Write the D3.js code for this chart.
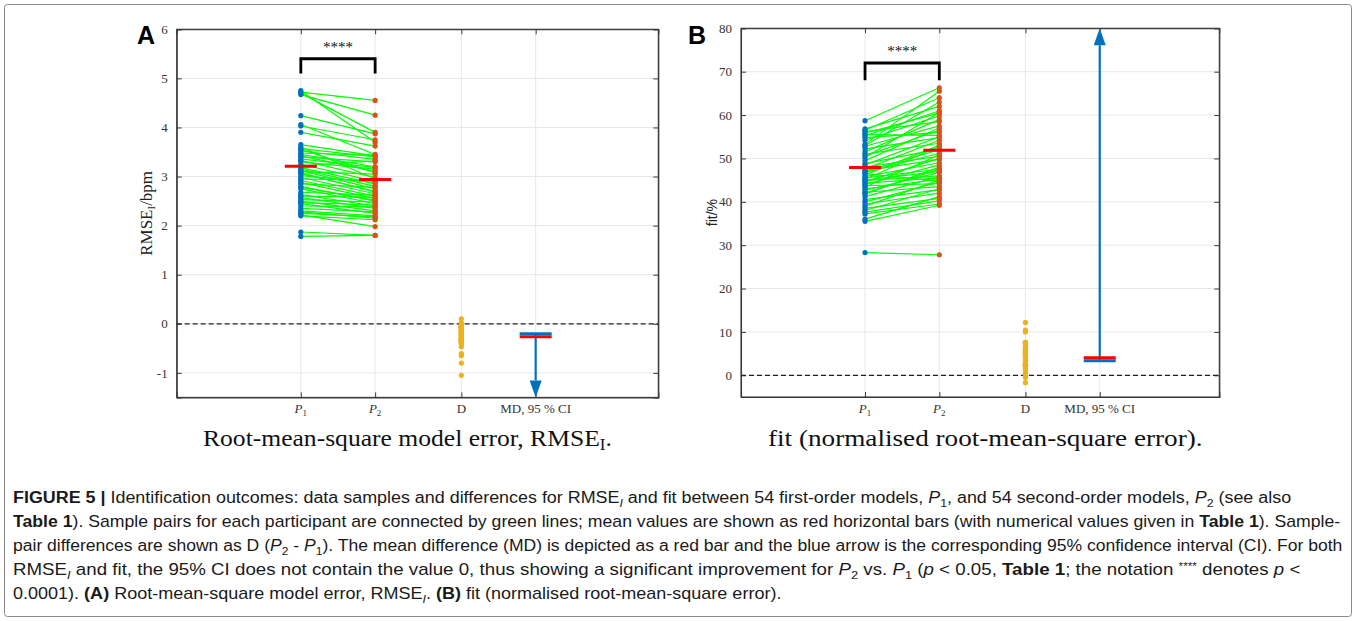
<!DOCTYPE html>
<html><head><meta charset="utf-8">
<script src="https://cdn.jsdelivr.net/npm/d3@7"></script>
<style>html,body{margin:0;padding:0;background:#fff;}svg{display:block;}</style>
</head><body>
<svg id="fig" width="1356" height="621"></svg>
<script>
// ---------- DATA ----------
const categories = ["P1", "P2", "D", "MD, 95 % CI"];
const categoryPos = [1, 2, 3.16, 4.16];

// Panel A: RMSE_I (bpm), paired samples (index = participant)
const rmseP1 = [4.75,4.72,4.70,4.67,4.24,4.06,4.03,3.90,3.65,3.60,3.57,3.52,3.48,3.45,3.40,3.36,3.30,3.25,3.22,3.18,3.15,3.12,3.10,3.06,3.02,2.98,2.95,2.92,2.88,2.85,2.80,2.75,2.68,2.63,2.60,2.57,2.53,2.50,2.47,2.45,2.40,2.35,2.30,2.28,2.25,2.22,2.20,1.87,1.78,3.42,3.33,3.08,2.78,3.55];
const rmseP2 = [3.70,4.55,3.90,4.25,3.87,3.45,3.75,3.62,3.42,2.95,3.40,3.35,3.43,3.20,3.30,3.18,3.15,2.90,3.32,2.85,2.80,2.75,3.05,2.70,2.88,2.65,2.92,2.60,2.55,2.78,2.50,2.45,2.62,2.40,2.58,2.35,2.48,2.30,2.42,2.25,2.38,2.28,2.20,2.15,2.18,1.98,2.12,1.80,1.80,3.10,2.98,2.68,2.52,3.08];
const rmseMeans = [3.21, 2.94];
const rmseMD = -0.265;
const rmseCIbound = -0.205;
const rmseYTicks = [-1, 0, 1, 2, 3, 4, 5, 6];
const rmseYDomain = [-1.5, 6];

// Panel B: fit (%), paired samples
const fitP1 = [58.7,56.8,56.2,55.8,55.5,55.2,54.8,54.2,53.3,52.8,52.2,51.5,51.0,50.6,50.2,48.8,48.5,48.0,47.6,47.2,46.8,46.5,46.2,45.8,45.5,45.2,44.9,44.6,44.3,44.0,43.7,43.4,43.0,42.6,42.2,41.8,41.2,40.5,40.0,39.5,39.0,38.5,38.0,37.6,37.2,36.0,35.5,28.3,56.5,53.0,49.5,47.0,45.0,42.0];
const fitP2 = [66.3,62.0,58.5,60.5,55.3,61.0,56.0,59.8,65.5,57.5,54.8,59.0,53.5,56.5,60.6,52.2,55.0,50.5,54.2,49.8,51.2,44.8,53.0,49.0,47.5,52.8,46.0,50.0,45.5,48.5,44.2,50.8,45.2,46.8,43.5,48.0,45.8,42.8,44.5,42.0,45.0,40.8,43.0,40.2,39.5,41.2,39.2,27.8,64.0,63.0,57.0,52.0,47.0,47.5];
const fitMeans = [47.9, 51.9];
const fitMD = 4.05;
const fitCIbound = 3.36;
const fitYTicks = [0, 10, 20, 30, 40, 50, 60, 70, 80];
const fitYDomain = [-5, 80];

// ---------- DRAW ----------
const svg = d3.select("#fig");
const serif = "'Liberation Serif','DejaVu Serif',serif";
const sans = "'Liberation Sans','Arial',sans-serif";
const narrow = "'Liberation Sans Narrow','Arial Narrow','Liberation Sans',sans-serif";

// outer frame
svg.append("rect").attr("x",4.5).attr("y",4.5).attr("width",1347).attr("height",612)
  .attr("fill","none").attr("stroke","#8a8a8a").attr("stroke-width",1).attr("rx",3);

function panel(cfg){
  const g = svg.append("g");
  const x = d3.scaleLinear().domain(cfg.xDomain).range([cfg.left, cfg.right]);
  const y = d3.scaleLinear().domain(cfg.yDomain).range([cfg.bottom, cfg.top]);
  const axisCol = "#3a3a3a";

  // grid
  g.selectAll(".gy").data(cfg.yTicks).join("line")
    .attr("x1",cfg.left).attr("x2",cfg.right).attr("y1",d=>y(d)).attr("y2",d=>y(d))
    .attr("stroke","#e8e8e8").attr("stroke-width",1);
  g.selectAll(".gx").data(categoryPos).join("line")
    .attr("x1",d=>x(d)).attr("x2",d=>x(d)).attr("y1",cfg.top).attr("y2",cfg.bottom)
    .attr("stroke","#e8e8e8").attr("stroke-width",1);

  // axes via d3 axis generators (inward ticks)
  const yl = d3.axisLeft(y).tickValues(cfg.yTicks).tickSize(-5).tickPadding(9).tickFormat(d=>String(d));
  const ya = g.append("g").attr("transform",`translate(${cfg.left},0)`).call(yl);
  const yr = d3.axisRight(y).tickValues(cfg.yTicks).tickSize(-5).tickFormat("");
  g.append("g").attr("transform",`translate(${cfg.right},0)`).call(yr);
  const xb = d3.axisBottom(x).tickValues(categoryPos).tickSize(-5).tickFormat("");
  g.append("g").attr("transform",`translate(0,${cfg.bottom})`).call(xb);
  const xt = d3.axisTop(x).tickValues(categoryPos).tickSize(-5).tickFormat("");
  g.append("g").attr("transform",`translate(0,${cfg.top})`).call(xt);
  g.selectAll(".domain").attr("stroke",axisCol).attr("stroke-width",1.1);
  g.selectAll(".tick line").attr("stroke",axisCol);
  ya.selectAll("text").attr("font-family",serif).attr("font-size",13).attr("fill","#333");
  // box
  g.append("rect").attr("x",cfg.left).attr("y",cfg.top).attr("width",cfg.right-cfg.left).attr("height",cfg.bottom-cfg.top)
    .attr("fill","none").attr("stroke",axisCol).attr("stroke-width",1.1);

  // x tick labels
  const ly = cfg.bottom + 16;
  const lab = (xx)=>g.append("text").attr("x",xx).attr("y",ly).attr("text-anchor","middle")
    .attr("font-family",serif).attr("font-size",13).attr("fill","#333");
  [0,1].forEach(i=>{
    const t = lab(x(categoryPos[i]));
    t.append("tspan").attr("font-style","italic").text("P");
    t.append("tspan").attr("font-size",9).attr("dy",3).text(String(i+1));
  });
  lab(x(categoryPos[2])).text(categories[2]);
  lab(x(categoryPos[3])).text(categories[3]);

  // zero line
  g.append("line").attr("x1",cfg.left).attr("x2",cfg.right).attr("y1",y(0)).attr("y2",y(0))
    .attr("stroke","#222").attr("stroke-width",1.2).attr("stroke-dasharray","5,3");

  const p1 = cfg.p1, p2 = cfg.p2;
  const pairs = p1.map((v,i)=>({a:v,b:p2[i],d:p2[i]-v}));
  // green connecting lines
  g.selectAll(".pair").data(pairs).join("line")
    .attr("x1",x(categoryPos[0])).attr("x2",x(categoryPos[1]))
    .attr("y1",d=>y(d.a)).attr("y2",d=>y(d.b))
    .attr("stroke","#00ff00").attr("stroke-width",1.2);
  // dots
  g.selectAll(".d1").data(pairs).join("circle").attr("cx",x(categoryPos[0])).attr("cy",d=>y(d.a)).attr("r",2.6).attr("fill","#0072BD");
  g.selectAll(".d2").data(pairs).join("circle").attr("cx",x(categoryPos[1])).attr("cy",d=>y(d.b)).attr("r",2.6).attr("fill","#D95319");
  g.selectAll(".dd").data(pairs).join("circle").attr("cx",x(categoryPos[2])).attr("cy",d=>y(d.d)).attr("r",2.6).attr("fill","#EDB120");

  // means
  cfg.means.forEach((m,i)=>{
    g.append("line").attr("x1",x(categoryPos[i])-16).attr("x2",x(categoryPos[i])+16)
      .attr("y1",y(m)).attr("y2",y(m)).attr("stroke","#ff0000").attr("stroke-width",3);
  });

  // MD + CI arrow (one-sided CI: arrow runs from the bound away from zero, past the mean)
  const mx = x(categoryPos[3]);
  const yb = y(cfg.ci), ym = y(cfg.md);
  const up = cfg.ci < cfg.md;
  const tipY = up ? cfg.top : cfg.bottom;
  const headLen = 17, headHalf = 6;
  const baseY = up ? tipY + headLen : tipY - headLen;
  g.append("line").attr("x1",mx).attr("x2",mx).attr("y1",yb).attr("y2",baseY)
    .attr("stroke","#0072BD").attr("stroke-width",2.2);
  g.append("path").attr("d",`M${mx},${tipY}L${mx-headHalf},${baseY}L${mx+headHalf},${baseY}Z`).attr("fill","#0072BD");
  g.append("line").attr("x1",mx-16).attr("x2",mx+16).attr("y1",yb).attr("y2",yb).attr("stroke","#0072BD").attr("stroke-width",3);
  g.append("line").attr("x1",mx-16).attr("x2",mx+16).attr("y1",ym).attr("y2",ym).attr("stroke","#ff0000").attr("stroke-width",3);

  // significance bracket
  const bx1 = x(categoryPos[0]), bx2 = x(categoryPos[1]);
  g.append("path").attr("d",`M${bx1},${y(cfg.brLow)}V${y(cfg.brTop)}H${bx2}V${y(cfg.brLow)}`)
    .attr("fill","none").attr("stroke","#000").attr("stroke-width",2.8);
  g.append("text").attr("x",(bx1+bx2)/2).attr("y",y(cfg.starY)+6).attr("text-anchor","middle")
    .attr("font-family",serif).attr("font-size",15).attr("fill","#111").text("****");

  // panel letter
  g.append("text").attr("x",cfg.letterX).attr("y",44).attr("font-family",sans).attr("font-weight","bold")
    .attr("font-size",25).attr("fill","#000").text(cfg.letter);

  // y label
  const yt = g.append("text").attr("transform",`translate(${cfg.ylabX},${(cfg.top+cfg.bottom)/2}) rotate(-90)`)
    .attr("text-anchor","middle").attr("fill","#222");
  cfg.ylab(yt);

  // title
  const tt = g.append("text").attr("x",0).attr("y",0).attr("font-family",serif).attr("font-size",24).attr("fill","#111");
  cfg.title(tt);
  const w = tt.node().getComputedTextLength();
  const s = (cfg.titleR - cfg.titleL)/w;
  tt.attr("transform",`translate(${cfg.titleL},446) scale(${s},1)`);
}

panel({
  left:176.7, right:658.3, top:29.3, bottom:397.4,
  xDomain:[-0.67, 5.81], yDomain:rmseYDomain, yTicks:rmseYTicks,
  p1:rmseP1, p2:rmseP2, means:rmseMeans, md:rmseMD, ci:rmseCIbound,
  brTop:5.4, brLow:5.1, starY:5.66, letter:"A", letterX:137, ylabX:152,
  ylab:(t)=>{ t.attr("font-family",serif).attr("font-size",17);
    t.append("tspan").text("RMSE"); t.append("tspan").attr("font-size",11).attr("dy",3).text("I");
    t.append("tspan").attr("dy",-3).text("/bpm"); },
  title:(t)=>{ t.append("tspan").text("Root-mean-square model error, RMSE");
    t.append("tspan").attr("font-size",16).attr("dy",4).text("I"); t.append("tspan").attr("dy",-4).text("."); },
  titleL:203, titleR:612
});

panel({
  left:741, right:1219.3, top:28.3, bottom:397,
  xDomain:[-0.67, 5.77], yDomain:fitYDomain, yTicks:fitYTicks,
  p1:fitP1, p2:fitP2, means:fitMeans, md:fitMD, ci:fitCIbound,
  brTop:72, brLow:68, starY:75, letter:"B", letterX:688, ylabX:717,
  ylab:(t)=>{ t.attr("font-family",sans).attr("font-size",14).text("fit/%"); },
  title:(t)=>{ t.text("fit (normalised root-mean-square error)."); },
  titleL:768, titleR:1203
});

// ---------- CAPTION ----------
const capLines = [
  [["b","FIGURE 5 | "],["n","Identification outcomes: data samples and differences for RMSE"],["si","I"],["n"," and fit between 54 first-order models, "],["i","P"],["s","1"],["n",", and 54 second-order models, "],["i","P"],["s","2"],["n"," (see also"]],
  [["b","Table 1"],["n","). Sample pairs for each participant are connected by green lines; mean values are shown as red horizontal bars (with numerical values given in "],["b","Table 1"],["n","). Sample-"]],
  [["n","pair differences are shown as D ("],["i","P"],["s","2"],["n"," - "],["i","P"],["s","1"],["n","). The mean difference (MD) is depicted as a red bar and the blue arrow is the corresponding 95% confidence interval (CI). For both"]],
  [["n","RMSE"],["si","I"],["n"," and fit, the 95% CI does not contain the value 0, thus showing a significant improvement for "],["i","P"],["s","2"],["n"," vs. "],["i","P"],["s","1"],["n"," ("],["i","p"],["n"," < 0.05, "],["b","Table 1"],["n","; the notation "],["sup","****"],["n"," denotes "],["i","p"],["n"," <"]],
  [["n","0.0001). "],["b","(A)"],["n"," Root-mean-square model error, RMSE"],["si","I"],["n",". "],["b","(B)"],["n"," fit (normalised root-mean-square error)."]]
];
const capY = [503, 527, 551, 575, 599];
const capEnd = [1292, 1341, 1343, 1301, 782];
const capX = 13;
capLines.forEach((parts, li)=>{
  const t = svg.append("text").attr("x",0).attr("y",0).attr("font-family",narrow).attr("font-size",16).attr("fill","#1a1a1a");
  let shift = 0;
  parts.forEach(([k,s])=>{
    const sp = t.append("tspan").text(s);
    let target = 0;
    if (k==="b") sp.attr("font-weight","bold");
    if (k==="i") sp.attr("font-style","italic");
    if (k==="s") { sp.attr("font-size",11); target = 4; }
    if (k==="si") { sp.attr("font-size",11).attr("font-style","italic"); target = 4; }
    if (k==="sup") { sp.attr("font-size",10); target = -5; }
    sp.attr("dy", target - shift); shift = target;
  });
  const w = t.node().getComputedTextLength();
  t.attr("transform",`translate(${capX},${capY[li]}) scale(${(capEnd[li]-capX)/w},1)`);
});
</script>
</body></html>
